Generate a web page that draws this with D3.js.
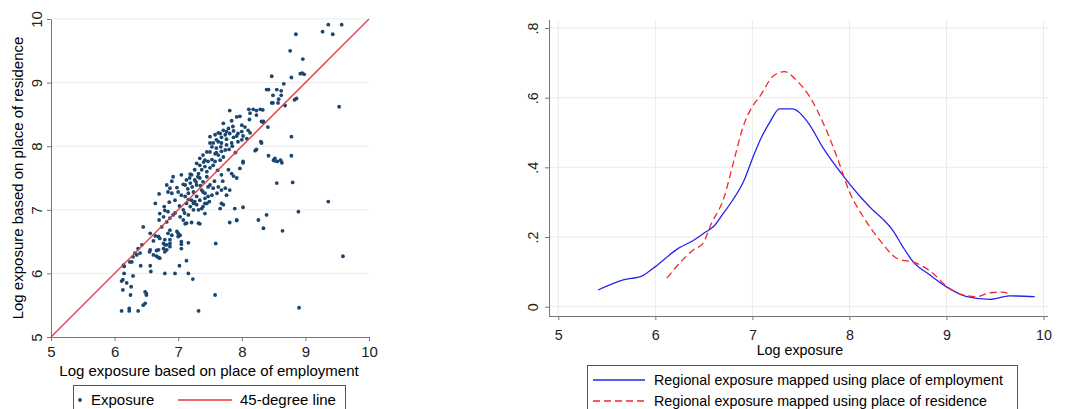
<!DOCTYPE html>
<html>
<head>
<meta charset="utf-8">
<script src="https://cdn.jsdelivr.net/npm/d3@7"></script>
<style>
  body { margin: 0; background: #fff; }
  svg { display: block; font-family: "Liberation Sans", Arial, sans-serif; }
</style>
</head>
<body>
<svg width="1081" height="409"></svg>
<script>
// scatter: [log exposure by employment, log exposure by residence]
const exposurePoints = [
  [9.36,9.91],[9.57,9.91],[9.27,9.80],[9.43,9.76],[8.85,9.76],[8.76,9.50],[8.96,9.37],[8.92,9.14],[8.98,9.13],[8.95,9.15],
  [8.47,9.10],[8.78,9.08],[8.66,8.98],[8.39,8.89],[8.55,8.89],[8.62,8.87],[8.49,8.80],[8.62,8.80],[8.58,8.74],[8.86,8.75],
  [8.83,8.73],[8.49,8.68],[8.68,8.64],[9.53,8.62],[8.57,8.68],[8.47,8.68],[8.33,8.57],[8.33,8.38],[8.42,8.89],
  [7.81,8.56],[8.11,8.58],[8.18,8.58],[8.23,8.56],[8.29,8.58],[8.13,8.52],[8.23,8.49],[7.97,8.47],[7.84,8.40],[8.31,8.39],
  [8.12,8.42],[7.71,8.36],[7.86,8.31],[8.0,8.33],[8.05,8.30],[8.10,8.25],[8.13,8.21],[8.41,8.30],[7.63,8.21],[7.76,8.23],
  [7.81,8.20],[7.87,8.24],[7.94,8.20],[8.0,8.23],[8.02,8.16],[8.08,8.12],[7.50,8.15],[7.58,8.18],[7.68,8.14],[7.76,8.11],
  [7.87,8.14],[7.92,8.16],[7.63,8.07],[7.68,8.05],[7.76,8.02],[7.84,8.05],[7.94,8.07],[8.0,8.10],[8.30,8.07],[7.60,7.97],
  [7.67,7.99],[7.74,7.94],[8.23,7.95],[8.21,7.93],[7.50,7.91],[7.58,7.88],[7.63,7.86],[7.71,7.83],[7.66,7.78],[7.42,7.78],
  [7.47,7.76],[7.53,7.79],[7.58,7.76],[8.42,7.85],[8.50,7.78],[8.56,7.76],[8.61,7.78],[8.02,7.76],[7.29,7.73],[7.34,7.81],
  [7.39,7.86],[7.45,7.91],[7.53,7.99],[7.55,8.05],[7.60,8.10],[7.50,8.05],[7.66,8.20],[7.71,8.25],[7.74,8.18],[7.79,8.28],
  [7.92,8.46],[8.78,8.15],[8.78,7.85],[8.52,7.81],[8.31,8.05],[8.34,8.39],
  [6.92,7.52],[7.05,7.55],[7.19,7.56],[7.13,7.47],[7.11,7.39],[7.19,7.42],[7.26,7.47],[7.32,7.57],[7.37,7.63],[7.42,7.68],
  [7.34,7.50],[7.39,7.44],[6.82,7.39],[6.87,7.34],[6.84,7.28],[6.90,7.26],[6.70,7.25],[6.64,7.10],[7.0,7.28],[7.05,7.23],
  [7.11,7.21],[7.16,7.26],[7.24,7.28],[7.29,7.21],[7.21,7.15],[7.13,7.10],[7.19,7.05],[7.24,7.0],[7.29,7.08],[7.34,7.15],
  [7.42,7.26],[7.39,7.05],[7.45,7.10],[6.71,6.94],[6.79,6.99],[6.84,6.97],[6.77,6.89],[6.87,6.87],[6.82,6.81],[6.92,6.92],
  [6.70,6.84],[6.45,6.73],[7.03,6.89],[7.08,6.84],[7.13,6.79],[7.21,6.80],[7.32,6.79],[7.16,6.92],[6.87,6.68],[6.98,6.66],
  [6.90,6.60],[7.0,6.58],[6.56,6.63],[6.64,6.59],[6.71,6.55],[6.79,6.53],[6.77,6.47],[7.05,6.50],[7.16,6.48],[7.45,7.52],
  [7.47,7.36],[7.34,7.70],[7.26,7.63],[7.21,7.55],[7.29,7.39],[7.37,7.31],[7.24,7.10],[7.32,7.0],[7.42,6.94],[7.47,7.21],
  [6.74,6.73],
  [8.02,7.74],[8.63,7.74],[8.52,7.77],[8.55,7.42],[8.80,7.43],[7.68,7.55],[7.84,7.57],[7.92,7.50],[7.97,7.65],[7.79,7.63],
  [7.87,7.53],[7.50,7.39],[7.55,7.34],[7.63,7.36],[7.68,7.31],[7.74,7.34],[7.61,7.26],[7.76,7.23],[7.81,7.31],[7.39,7.28],
  [7.42,7.18],[7.53,7.23],[7.42,7.10],[7.49,7.13],[7.37,7.02],[7.68,7.10],[7.71,7.08],[7.66,7.02],[7.89,7.02],[8.02,7.04],
  [8.89,6.97],[8.39,6.92],[8.26,6.84],[7.92,6.84],[7.81,6.80],[8.34,6.71],[8.64,6.67],[7.59,6.47],[9.59,6.27],[7.58,5.66],
  [8.90,5.46],[9.36,7.13],
  [6.43,6.45],[6.37,6.39],[6.32,6.32],[6.29,6.26],[6.35,6.29],[6.24,6.18],[6.14,6.13],[6.56,6.37],[6.61,6.29],[6.69,6.37],
  [6.66,6.27],[6.71,6.24],[6.77,6.39],[6.82,6.45],[6.87,6.47],[6.79,6.34],[7.05,6.46],[7.05,6.39],[6.41,6.12],[6.56,6.12],
  [6.57,6.03],[6.79,6.0],[6.95,6.0],[7.02,6.12],[7.13,6.20],[7.16,6.0],[7.23,5.91],[6.15,6.0],[6.13,5.90],[6.19,5.85],
  [6.29,5.96],[6.13,5.74],[6.25,5.66],[6.48,5.71],[6.50,5.66],[6.45,5.50],[6.48,5.53],[6.11,5.41],[6.23,5.45],[6.23,5.41],
  [6.37,5.41],[7.32,5.41],[7.11,6.78],[7.34,6.78],[7.92,6.83],[6.69,6.58],[6.61,6.51],[6.84,6.63],[6.87,6.53],[7.0,6.63],
  [7.03,6.60],[6.79,6.45],[6.87,6.42],[6.55,6.34],[6.66,6.36],[6.69,6.25],[6.82,6.37],[6.40,6.32],[6.27,6.18],[6.15,6.11],
  [6.26,5.79],[6.11,5.88],[6.50,5.68],
  [7.08,7.40],[7.15,7.33],[7.22,7.36],[7.28,7.44],[7.35,7.38],[7.31,7.52],[7.18,7.50],[7.45,7.60],[7.50,7.66],[7.40,7.75],
  [7.55,7.70],[7.62,7.62],[7.57,7.45],[7.70,7.45],[7.60,7.90],[7.68,7.92],[7.80,7.95],[7.85,8.00],[7.90,7.90],[6.95,7.15],
  [7.02,7.06],[6.98,7.35],[7.08,7.00],[6.95,6.95],[7.10,6.95],[7.16,7.16],[7.26,7.13],[6.90,7.45],[6.78,7.05],[6.86,7.12]
];
const diagonal = [5, 10];

// kernel density estimates
const empDensX = [5.41,5.67,5.86,6.0,6.24,6.39,6.51,6.6,6.7,6.8,6.91,7.0,7.1,7.18,7.28,7.41,7.57,7.73,7.94,8.14,8.24,8.35,8.45,8.55,8.66,8.83,9.0,9.21,9.45,9.65,9.91];
const empDensY = [0.048,0.077,0.088,0.115,0.168,0.19,0.213,0.23,0.268,0.307,0.36,0.425,0.49,0.53,0.568,0.568,0.53,0.455,0.374,0.307,0.278,0.25,0.218,0.172,0.128,0.091,0.057,0.029,0.021,0.031,0.029];
const resDensX = [6.12,6.25,6.39,6.49,6.58,6.7,6.82,6.905,7.0,7.08,7.21,7.33,7.45,7.59,7.73,7.87,8.0,8.14,8.31,8.49,8.69,8.86,9.0,9.17,9.31,9.45,9.58,9.66];
const resDensY = [0.082,0.125,0.163,0.182,0.24,0.307,0.431,0.517,0.575,0.605,0.661,0.675,0.651,0.603,0.527,0.431,0.33,0.259,0.192,0.139,0.125,0.096,0.059,0.034,0.029,0.04,0.042,0.034];

const xTicks = [5, 6, 7, 8, 9, 10];
const yTicksL = [5, 6, 7, 8, 9, 10];
const yTicksR = [0, 0.2, 0.4, 0.6, 0.8];

const svg = d3.select("svg");
const gridCol = "#ebebeb", axisCol = "#777";
const fsL = "15px", fsR = "14.3px";

// ---------- left panel ----------
const xL = d3.scaleLinear().domain([5, 10]).range([51, 369]);
const yL = d3.scaleLinear().domain([5, 10]).range([337, 19]);

svg.append("g").selectAll("line").data(yTicksL.slice(1)).enter().append("line")
  .attr("x1", 51).attr("x2", 369)
  .attr("y1", d => yL(d)).attr("y2", d => yL(d))
  .attr("stroke", gridCol);

const axL = svg.append("g").attr("class", "left").attr("transform", "translate(0,337)")
  .call(d3.axisBottom(xL).tickValues(xTicks).tickFormat(d3.format("d"))
    .tickSize(4).tickSizeOuter(0).tickPadding(5));
const ayL = svg.append("g").attr("class", "left").attr("transform", "translate(51,0)")
  .call(d3.axisLeft(yL).tickValues(yTicksL).tickFormat(d3.format("d")).tickSize(4).tickSizeOuter(0));
ayL.selectAll(".tick text").attr("x", null).attr("dy", null)
  .attr("transform", "translate(-9,0) rotate(-90)").attr("text-anchor", "middle");

svg.append("g").selectAll("circle").data(exposurePoints).enter().append("circle")
  .attr("cx", d => xL(d[0])).attr("cy", d => yL(d[1])).attr("r", 1.9)
  .attr("fill", "#1a476f");

svg.append("line")
  .attr("x1", xL(diagonal[0])).attr("y1", yL(diagonal[0]))
  .attr("x2", xL(diagonal[1])).attr("y2", yL(diagonal[1]))
  .attr("stroke", "#e8383f").attr("stroke-width", 1.3);

svg.append("text").attr("x", 209).attr("y", 376).attr("text-anchor", "middle")
  .style("font-size", fsL).text("Log exposure based on place of employment");
svg.append("text").attr("transform", "translate(23,178) rotate(-90)").attr("text-anchor", "middle")
  .style("font-size", fsL).text("Log exposure based on place of residence");

const legL = svg.append("g");
legL.append("rect").attr("x", 73.5).attr("y", 385.5).attr("width", 272).attr("height", 32)
  .attr("fill", "#fff").attr("stroke", "#555");
legL.append("circle").attr("cx", 80).attr("cy", 400).attr("r", 1.9).attr("fill", "#1a476f");
legL.append("text").attr("x", 91).attr("y", 405).style("font-size", fsL).text("Exposure");
legL.append("line").attr("x1", 178).attr("x2", 232).attr("y1", 400).attr("y2", 400)
  .attr("stroke", "#e8383f").attr("stroke-width", 1.3);
legL.append("text").attr("x", 240).attr("y", 405).style("font-size", fsL).text("45-degree line");

// ---------- right panel ----------
const xR = d3.scaleLinear().domain([5, 10]).range([558.3, 1043.5]);
const yR = d3.scaleLinear().domain([0, 0.8]).range([306.7, 28]);

svg.append("g").selectAll("line").data(xTicks).enter().append("line")
  .attr("x1", d => xR(d)).attr("x2", d => xR(d)).attr("y1", 20).attr("y2", 316)
  .attr("stroke", gridCol);
svg.append("g").selectAll("line").data(yTicksR).enter().append("line")
  .attr("x1", 549).attr("x2", 1048).attr("y1", d => yR(d)).attr("y2", d => yR(d))
  .attr("stroke", gridCol);

const axR = svg.append("g").attr("class", "right").attr("transform", "translate(0,316)")
  .call(d3.axisBottom(xR).tickValues(xTicks).tickFormat(d3.format("d"))
    .tickSize(4).tickSizeOuter(0).tickPadding(10));
axR.select(".domain").attr("d", "M549,0.5H1048");
const ayR = svg.append("g").attr("class", "right").attr("transform", "translate(549,0)")
  .call(d3.axisLeft(yR).tickValues(yTicksR).tickSize(4).tickSizeOuter(0)
    .tickFormat(d => d === 0 ? "0" : d3.format(".1f")(d).replace("0.", ".")));
ayR.select(".domain").attr("d", "M0.5,316V20");
ayR.selectAll(".tick text").attr("x", null).attr("dy", null)
  .attr("transform", "translate(-11,0) rotate(-90)").attr("text-anchor", "middle");

const empLine = d3.line().x((d, i) => xR(empDensX[i])).y(d => yR(d)).curve(d3.curveMonotoneX);
const resLine = d3.line().x((d, i) => xR(resDensX[i])).y(d => yR(d)).curve(d3.curveMonotoneX);

svg.append("path").attr("d", empLine(empDensY)).attr("fill", "none")
  .attr("stroke", "#2424f0").attr("stroke-width", 1.3);
svg.append("path").attr("d", resLine(resDensY)).attr("fill", "none")
  .attr("stroke", "#ee2a2a").attr("stroke-width", 1.3).attr("stroke-dasharray", "7,4");

svg.append("text").attr("x", 800).attr("y", 355).attr("text-anchor", "middle")
  .style("font-size", fsR).text("Log exposure");

const legR = svg.append("g");
legR.append("rect").attr("x", 587.5).attr("y", 365.5).attr("width", 430).attr("height", 52)
  .attr("fill", "#fff").attr("stroke", "#555");
legR.append("line").attr("x1", 593).attr("x2", 645).attr("y1", 380).attr("y2", 380)
  .attr("stroke", "#2424f0").attr("stroke-width", 1.3);
legR.append("text").attr("x", 654).attr("y", 385).style("font-size", fsR)
  .text("Regional exposure mapped using place of employment");
legR.append("line").attr("x1", 593).attr("x2", 645).attr("y1", 401).attr("y2", 401)
  .attr("stroke", "#ee2a2a").attr("stroke-width", 1.3).attr("stroke-dasharray", "7,4");
legR.append("text").attr("x", 654).attr("y", 406).style("font-size", fsR)
  .text("Regional exposure mapped using place of residence");

// axis styling
svg.selectAll(".domain").attr("stroke", axisCol);
svg.selectAll(".tick line").attr("stroke", axisCol);
svg.selectAll(".tick text").attr("fill", "#222")
  .style("font-family", "'Liberation Sans', Arial, sans-serif");
svg.selectAll("g.left .tick text").style("font-size", fsL);
svg.selectAll("g.right .tick text").style("font-size", fsR);
</script>
</body>
</html>
